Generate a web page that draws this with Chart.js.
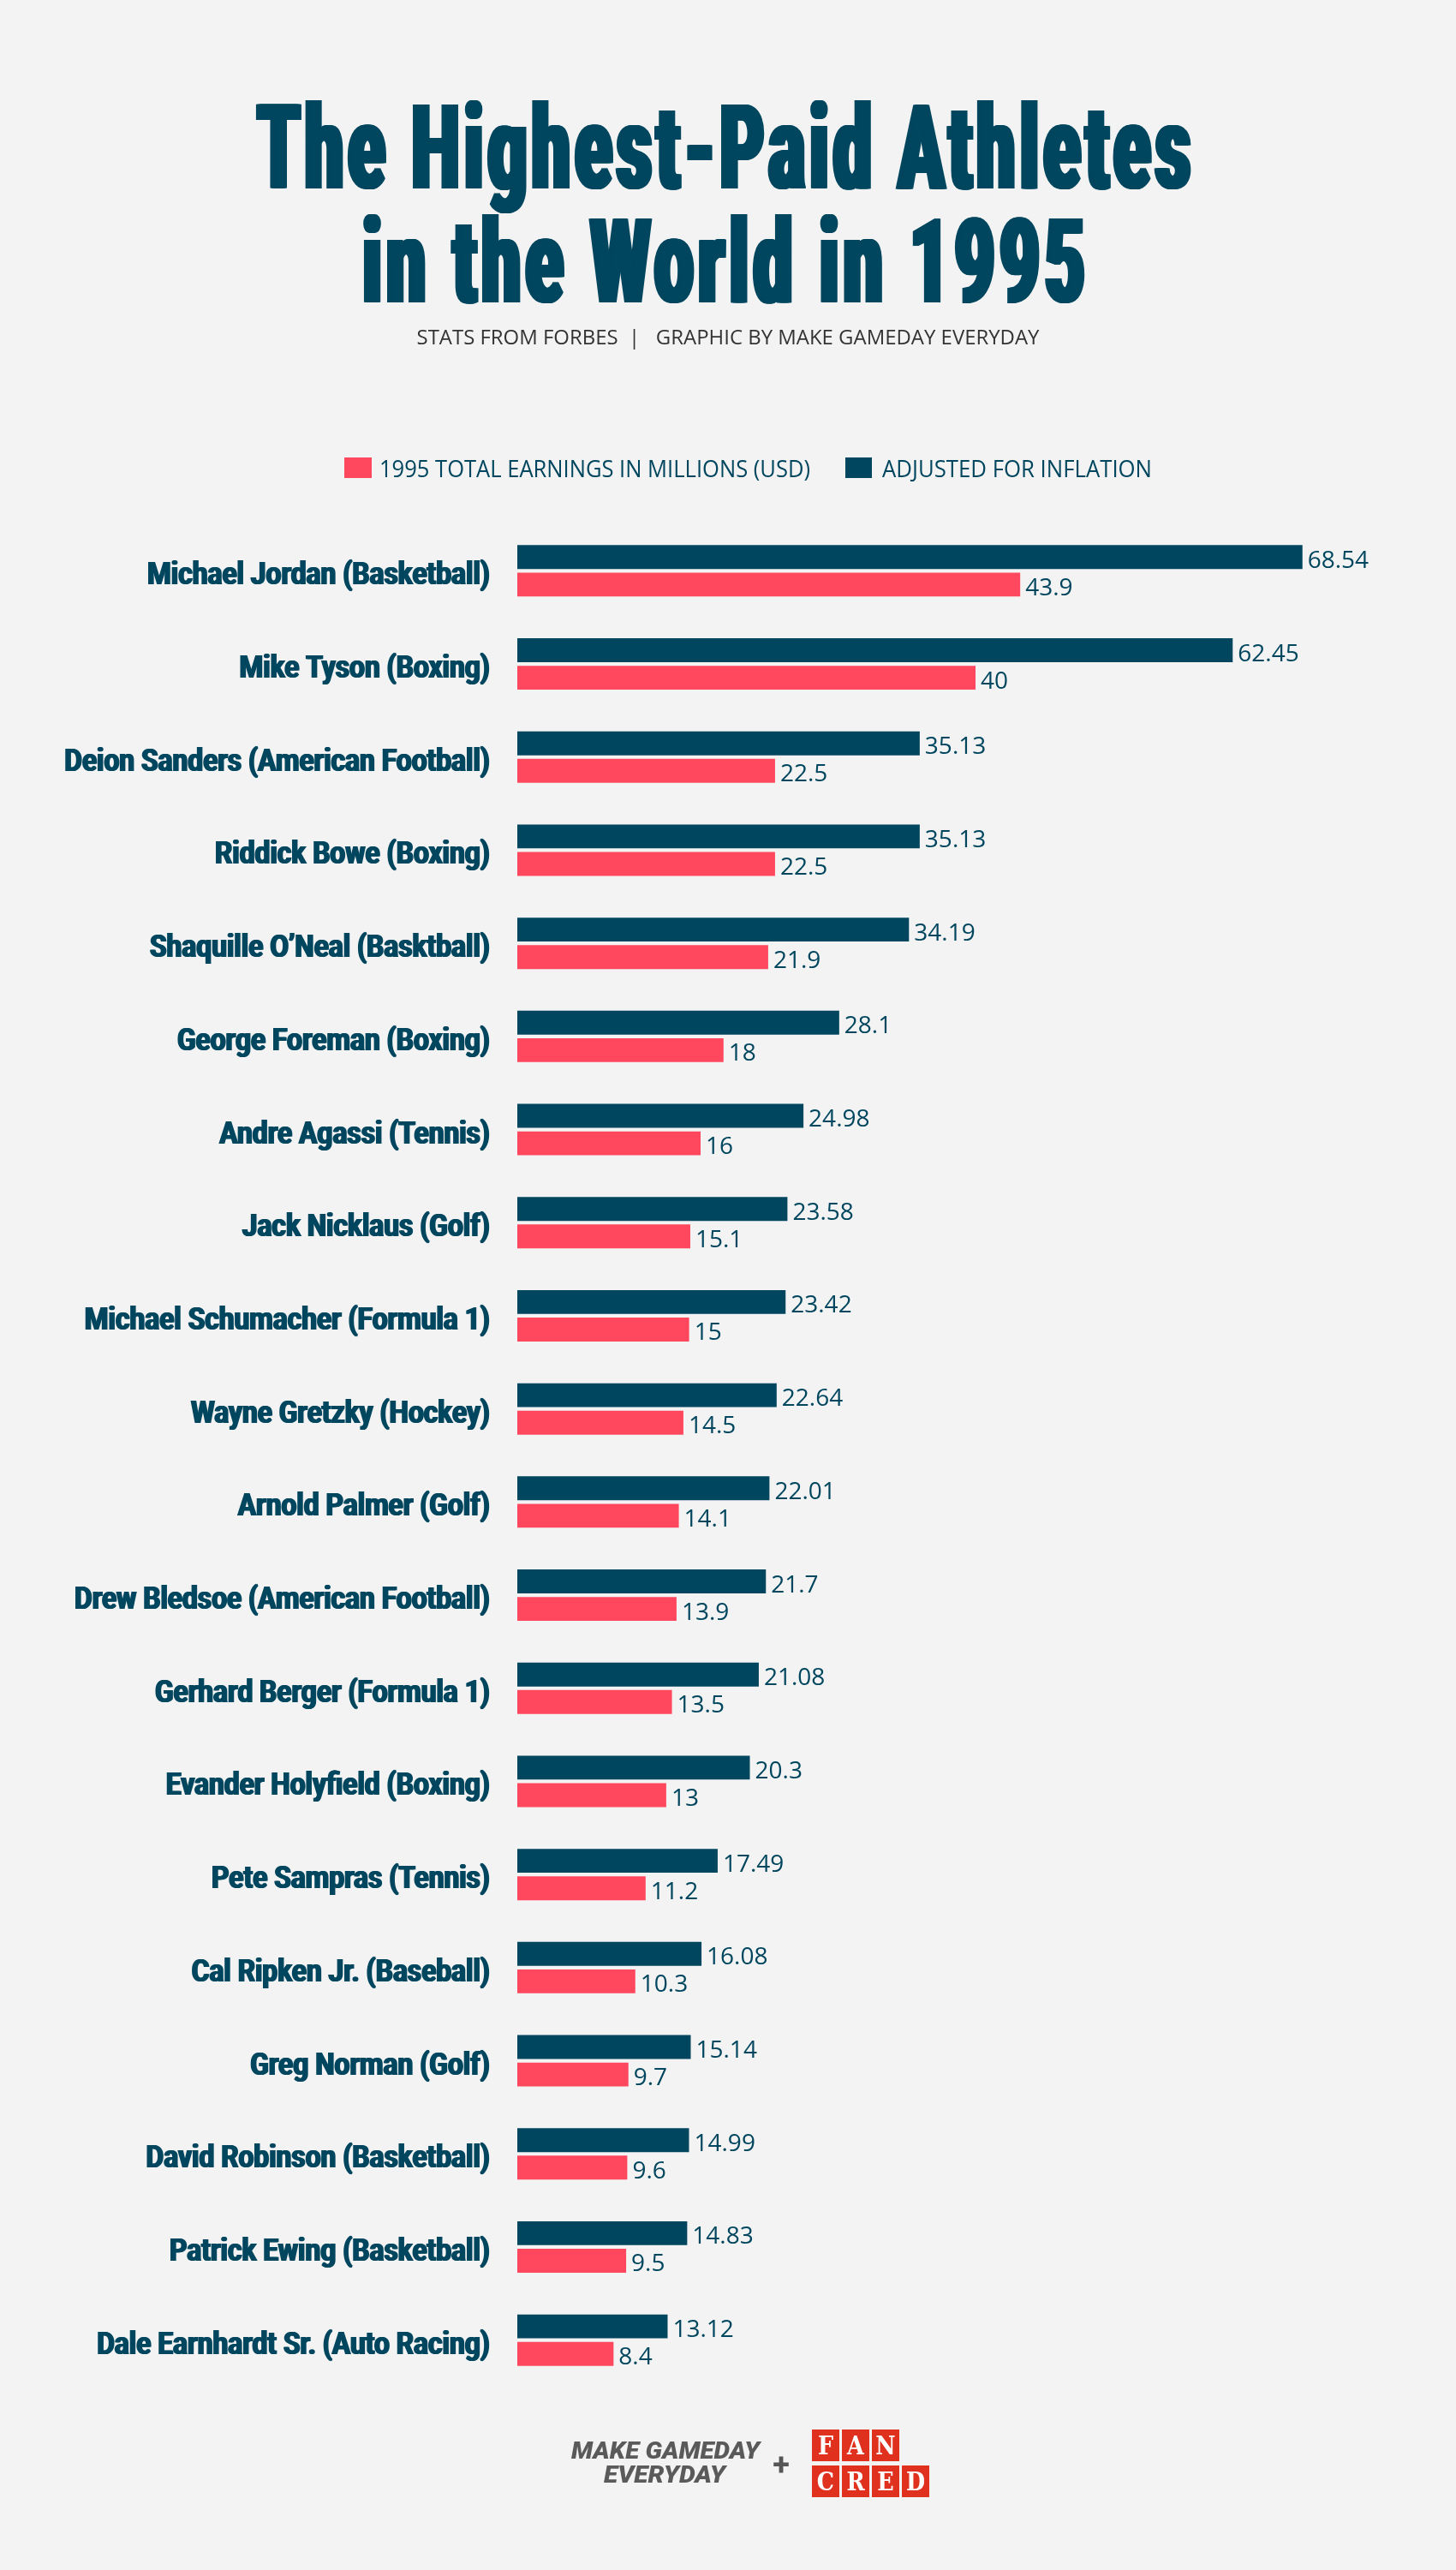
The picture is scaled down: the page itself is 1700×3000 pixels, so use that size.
<!DOCTYPE html>
<html>
<head>
<meta charset="utf-8">
<title>The Highest-Paid Athletes in the World in 1995</title>
<script src="https://cdn.jsdelivr.net/npm/chart.js@4.4.1/dist/chart.umd.min.js"></script>
<style>
  html, body { margin: 0; padding: 0; background: #f3f3f3; }
  #wrap { position: relative; width: 1700px; height: 3000px; }
</style>
</head>
<body>
<div id="wrap"><canvas id="chart"></canvas></div>
<script>
// data (millions of USD)
const athletes = [
  "Michael Jordan (Basketball)",
  "Mike Tyson (Boxing)",
  "Deion Sanders (American Football)",
  "Riddick Bowe (Boxing)",
  "Shaquille O\u2019Neal (Basktball)",
  "George Foreman (Boxing)",
  "Andre Agassi (Tennis)",
  "Jack Nicklaus (Golf)",
  "Michael Schumacher (Formula 1)",
  "Wayne Gretzky (Hockey)",
  "Arnold Palmer (Golf)",
  "Drew Bledsoe (American Football)",
  "Gerhard Berger (Formula 1)",
  "Evander Holyfield (Boxing)",
  "Pete Sampras (Tennis)",
  "Cal Ripken Jr. (Baseball)",
  "Greg Norman (Golf)",
  "David Robinson (Basketball)",
  "Patrick Ewing (Basketball)",
  "Dale Earnhardt Sr. (Auto Racing)"
];
const adjustedEarnings = [68.54, 62.45, 35.13, 35.13, 34.19, 28.1, 24.98, 23.58, 23.42, 22.64,
                          22.01, 21.7, 21.08, 20.3, 17.49, 16.08, 15.14, 14.99, 14.83, 13.12];
const earnings1995 = [43.9, 40, 22.5, 22.5, 21.9, 18, 16, 15.1, 15, 14.5,
                      14.1, 13.9, 13.5, 13, 11.2, 10.3, 9.7, 9.6, 9.5, 8.4];
const seriesNames = ["1995 TOTAL EARNINGS IN MILLIONS (USD)", "ADJUSTED FOR INFLATION"];
const titleLines = ["The Highest-Paid Athletes", "in the World in 1995"];
const subtitleText = "STATS FROM FORBES  |   GRAPHIC BY MAKE GAMEDAY EVERYDAY";

const NAVY = "#00465e";
const PINK = "#ff485e";

// draw text squeezed horizontally (the original uses condensed fonts),
// "spread" smears it sideways a few px to get the heavy stems back
function drawText(ctx, text, x, y, font, color, align, sx, spread, ls) {
  spread = spread || 0;
  ctx.save();
  ctx.font = font;
  ctx.letterSpacing = ls || "0px";
  ctx.fillStyle = color;
  ctx.textAlign = align;
  ctx.textBaseline = "alphabetic";
  for (let dx = -spread / 2; dx <= spread / 2; dx += 1) {
    ctx.save();
    ctx.translate(x + dx, y);
    ctx.scale(sx, 1);
    ctx.fillText(text, 0, 0);
    ctx.restore();
  }
  ctx.restore();
}
function fitScale(ctx, text, font, width, ls) {
  ctx.save();
  ctx.font = font;
  ctx.letterSpacing = ls || "0px";
  const w = ctx.measureText(text).width;
  ctx.restore();
  return width / w;
}

const textPlugin = {
  id: "infographicText",
  afterDraw(chart) {
    const ctx = chart.ctx;

    // title
    const tFont = "900 137px Roboto";
    const tSpread = 6;
    const tLs = "10px";
    drawText(ctx, titleLines[0], 848, 220, tFont, NAVY, "center",
      fitScale(ctx, titleLines[0], tFont, 1101 - tSpread, tLs), tSpread, tLs);
    drawText(ctx, titleLines[1], 848, 353, tFont, NAVY, "center",
      fitScale(ctx, titleLines[1], tFont, 855 - tSpread, tLs), tSpread, tLs);

    // subtitle
    const sFont = "24px 'Open Sans'";
    drawText(ctx, subtitleText, 850, 402, sFont, "#333333", "center", fitScale(ctx, subtitleText, sFont, 727));

    // legend
    const lFont = "28px 'Open Sans'";
    ctx.fillStyle = PINK;
    ctx.fillRect(402, 534, 32, 24);
    drawText(ctx, seriesNames[0], 443, 557, lFont, NAVY, "left", fitScale(ctx, seriesNames[0], lFont, 503));
    ctx.fillStyle = NAVY;
    ctx.fillRect(987, 534, 31, 24);
    drawText(ctx, seriesNames[1], 1030, 557, lFont, NAVY, "left", fitScale(ctx, seriesNames[1], lFont, 315));

    // athlete names
    const yScale = chart.scales.y;
    const nFont = "bold 37px Roboto";
    const nSpread = 2;
    const nScale = fitScale(ctx, athletes[0], nFont, 402 - nSpread);
    athletes.forEach((name, i) => {
      const y = yScale.getPixelForValue(i);
      drawText(ctx, name, 572, y + 16, nFont, NAVY, "right", nScale, nSpread);
    });

    // footer logos
    const fFont = "italic 900 28px Roboto";
    drawText(ctx, "MAKE GAMEDAY", 777, 2870, fFont, "#5a5a5a", "center", fitScale(ctx, "MAKE GAMEDAY", fFont, 220));
    drawText(ctx, "EVERYDAY", 776, 2898, fFont, "#5a5a5a", "center", fitScale(ctx, "EVERYDAY", fFont, 142));
    drawText(ctx, "+", 912, 2889, "bold 36px Roboto", "#555555", "center", 1);
    const rows = [["F", "A", "N"], ["C", "R", "E", "D"]];
    rows.forEach((row, r) => {
      const top = r === 0 ? 2836 : 2878;
      row.forEach((ch, k) => {
        const x = 948 + k * 35;
        ctx.fillStyle = "#e0301e";
        ctx.fillRect(x, top, 32, 37);
        drawText(ctx, ch, x + 16, top + 29, "bold 30px 'DejaVu Serif'", "#ffffff", "center", 0.85);
      });
    });
  },
  afterDatasetsDraw(chart) {
    const ctx = chart.ctx;
    chart.data.datasets.forEach((ds, di) => {
      const meta = chart.getDatasetMeta(di);
      meta.data.forEach((bar, i) => {
        drawText(ctx, String(ds.data[i]), bar.x + 6, bar.y + 12.5, "28px 'Open Sans'", NAVY, "left", 1);
      });
    });
  }
};

new Chart(document.getElementById("chart"), {
  type: "bar",
  data: {
    labels: athletes,
    datasets: [
      { label: seriesNames[1], data: adjustedEarnings, backgroundColor: NAVY },
      { label: seriesNames[0], data: earnings1995, backgroundColor: PINK }
    ]
  },
  options: {
    indexAxis: "y",
    responsive: true,
    maintainAspectRatio: false,
    animation: false,
    layout: { padding: { top: 612, bottom: 214, left: 604, right: 26 } },
    datasets: { bar: { categoryPercentage: 0.59, barPercentage: 0.87 } },
    scales: {
      x: { display: false, min: 0, max: 80 },
      y: { display: false }
    },
    plugins: {
      legend: { display: false },
      tooltip: { enabled: false }
    }
  },
  plugins: [textPlugin]
});
</script>
</body>
</html>
